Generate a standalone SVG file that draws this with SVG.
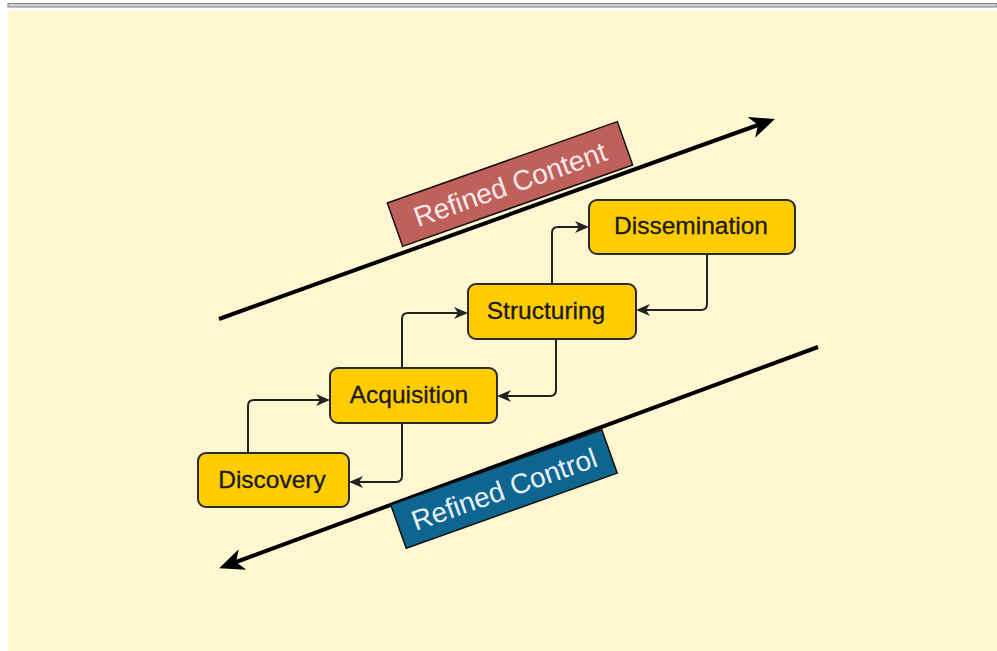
<svg xmlns="http://www.w3.org/2000/svg" width="997" height="651" viewBox="0 0 997 651">
<style>
.node rect{fill:#FFCC00;stroke:#2a2a2a;stroke-width:2}
.node text{font-family:"Liberation Sans",Arial,sans-serif;font-size:24.5px;fill:#1a1a1a;text-anchor:middle;stroke:#1a1a1a;stroke-width:0.3}
.conn path{fill:none;stroke:#222;stroke-width:2}
.big{stroke:#000;stroke-width:4;fill:none}
.band text{font-family:"Liberation Sans",Arial,sans-serif;font-size:28px;text-anchor:middle}
</style>
<defs>
<marker id="sa" markerUnits="userSpaceOnUse" markerWidth="14" markerHeight="12" viewBox="0 0 14 12" refX="4" refY="6" orient="auto">
<path d="M0,0 L14,6 L0,12 L4,6 z" fill="#222"/>
</marker>
<marker id="ba" markerUnits="userSpaceOnUse" markerWidth="26" markerHeight="22" viewBox="0 0 26 22" refX="7" refY="11" orient="auto">
<path d="M0,0 L25,11 L0,22 L7,11 z" fill="#000"/>
</marker>
</defs>
<rect x="0" y="0" width="997" height="651" fill="#ffffff"/>
<rect x="8" y="3.5" width="989" height="3.5" fill="#d0d0d0" stroke="#808080" stroke-width="1"/>
<rect x="8" y="11" width="989" height="640" fill="#FFF6D2"/>

<g id="big-arrows">
<path class="big" d="M219,319 L758,125" marker-end="url(#ba)"/>
<path class="big" d="M818,347 L236,562" marker-end="url(#ba)"/>
</g>

<g id="refined-content" class="band" transform="translate(510,184) rotate(-19.5)">
<rect x="-122" y="-23" width="244" height="46" fill="#C0605A" stroke="#111" stroke-width="1.5"/>
<text x="0" y="10" fill="#F8EAEA">Refined Content</text>
</g>
<g id="refined-control" class="band" transform="translate(504,489) rotate(-19.6)">
<rect x="-112" y="-23" width="224" height="46" fill="#0E6590" stroke="#111" stroke-width="1.5"/>
<text x="0" y="10" fill="#E6F2F8">Refined Control</text>
</g>

<g id="connectors" class="conn">
<path d="M248,453 V406 Q248,400 254,400 H320" marker-end="url(#sa)"/>
<path d="M402,423 V476 Q402,482 396,482 H359" marker-end="url(#sa)"/>
<path d="M402,368 V319 Q402,313 408,313 H458" marker-end="url(#sa)"/>
<path d="M556,339 V390 Q556,396 550,396 H507" marker-end="url(#sa)"/>
<path d="M552,284 V233 Q552,227 558,227 H579" marker-end="url(#sa)"/>
<path d="M707,254 V304 Q707,310 701,310 H646" marker-end="url(#sa)"/>
</g>

<g id="discovery" class="node">
<rect x="198" y="453" width="151" height="54" rx="8"/>
<text x="272" y="488">Discovery</text>
</g>
<g id="acquisition" class="node">
<rect x="330" y="368" width="167" height="55" rx="8"/>
<text x="409" y="403">Acquisition</text>
</g>
<g id="structuring" class="node">
<rect x="468" y="284" width="168" height="55" rx="8"/>
<text x="546" y="319">Structuring</text>
</g>
<g id="dissemination" class="node">
<rect x="589" y="200" width="206" height="54" rx="8"/>
<text x="691" y="234">Dissemination</text>
</g>
</svg>
